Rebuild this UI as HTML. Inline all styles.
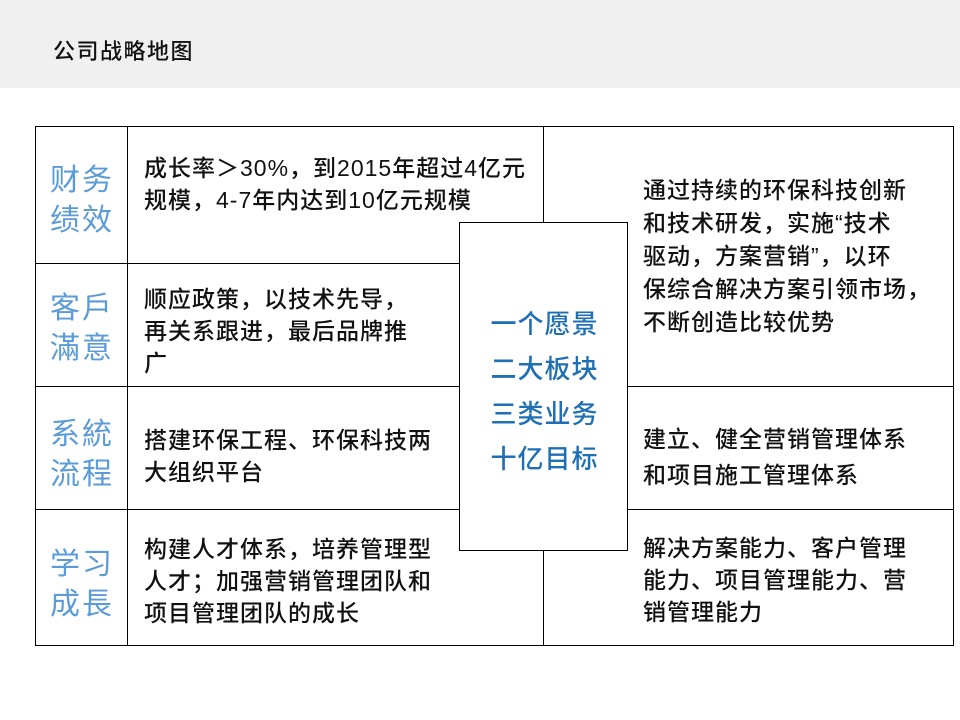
<!DOCTYPE html>
<html><head><meta charset="utf-8"><style>
*{margin:0;padding:0}
body{width:960px;height:720px;background:#fff;position:relative;overflow:hidden;font-family:"Liberation Sans","Noto Sans CJK SC",sans-serif}
.hd{position:absolute;left:0;top:0;width:960px;height:88px;background:#f0f0f0}
.tt{position:absolute;left:53px;top:34px;font-size:22px;letter-spacing:1.5px;color:#111;font-weight:500}
.l{position:absolute;background:#000}
.lab{position:absolute;left:36px;width:92px;text-align:center;color:#5b9bd8;font-size:30px;letter-spacing:2px;line-height:40px}
.tx{position:absolute;font-size:23px;letter-spacing:1px;line-height:32px;color:#111;font-weight:500;white-space:nowrap}
.c{position:absolute;left:459px;top:222px;width:167px;height:327px;background:#fff;border:1px solid #000}
.ct{position:absolute;left:460px;width:169px;text-align:center;color:#1f6fb5;font-size:26px;letter-spacing:1px;line-height:45px;top:302px;font-weight:500}
</style></head><body>
<div class="hd"></div><div class="tt">公司战略地图</div>
<div class="l" style="left:35px;top:126px;width:919px;height:1px"></div>
<div class="l" style="left:35px;top:645px;width:919px;height:1px"></div>
<div class="l" style="left:35px;top:126px;width:1px;height:520px"></div>
<div class="l" style="left:953px;top:126px;width:1px;height:520px"></div>
<div class="l" style="left:127px;top:126px;width:1px;height:520px"></div>
<div class="l" style="left:543px;top:126px;width:1px;height:520px"></div>
<div class="l" style="left:35px;top:263px;width:509px;height:1px"></div>
<div class="l" style="left:35px;top:386px;width:919px;height:1px"></div>
<div class="l" style="left:35px;top:509px;width:919px;height:1px"></div>
<div class="lab" style="top:161px">财务<br>绩效</div>
<div class="lab" style="top:289px">客戶<br>滿意</div>
<div class="lab" style="top:415px">系統<br>流程</div>
<div class="lab" style="top:545px">学习<br>成長</div>
<div class="tx" style="left:144px;top:152px">成长率＞30%，到2015年超过4亿元<br>规模，4-7年内达到10亿元规模</div>
<div class="tx" style="left:144px;top:283px">顺应政策，以技术先导，<br>再关系跟进，最后品牌推<br>广</div>
<div class="tx" style="left:144px;top:424px">搭建环保工程、环保科技两<br>大组织平台</div>
<div class="tx" style="left:144px;top:533px">构建人才体系，培养管理型<br>人才；加强营销管理团队和<br>项目管理团队的成长</div>
<div class="tx" style="left:643px;top:174px;line-height:33px">通过持续的环保科技创新<br>和技术研发，实施“技术<br>驱动，方案营销”，以环<br>保综合解决方案引领市场，<br>不断创造比较优势</div>
<div class="tx" style="left:643px;top:421px;line-height:36px">建立、健全营销管理体系<br>和项目施工管理体系</div>
<div class="tx" style="left:643px;top:532px">解决方案能力、客户管理<br>能力、项目管理能力、营<br>销管理能力</div>
<div class="c"></div>
<div class="ct">一个愿景<br>二大板块<br>三类业务<br>十亿目标</div>
</body></html>
